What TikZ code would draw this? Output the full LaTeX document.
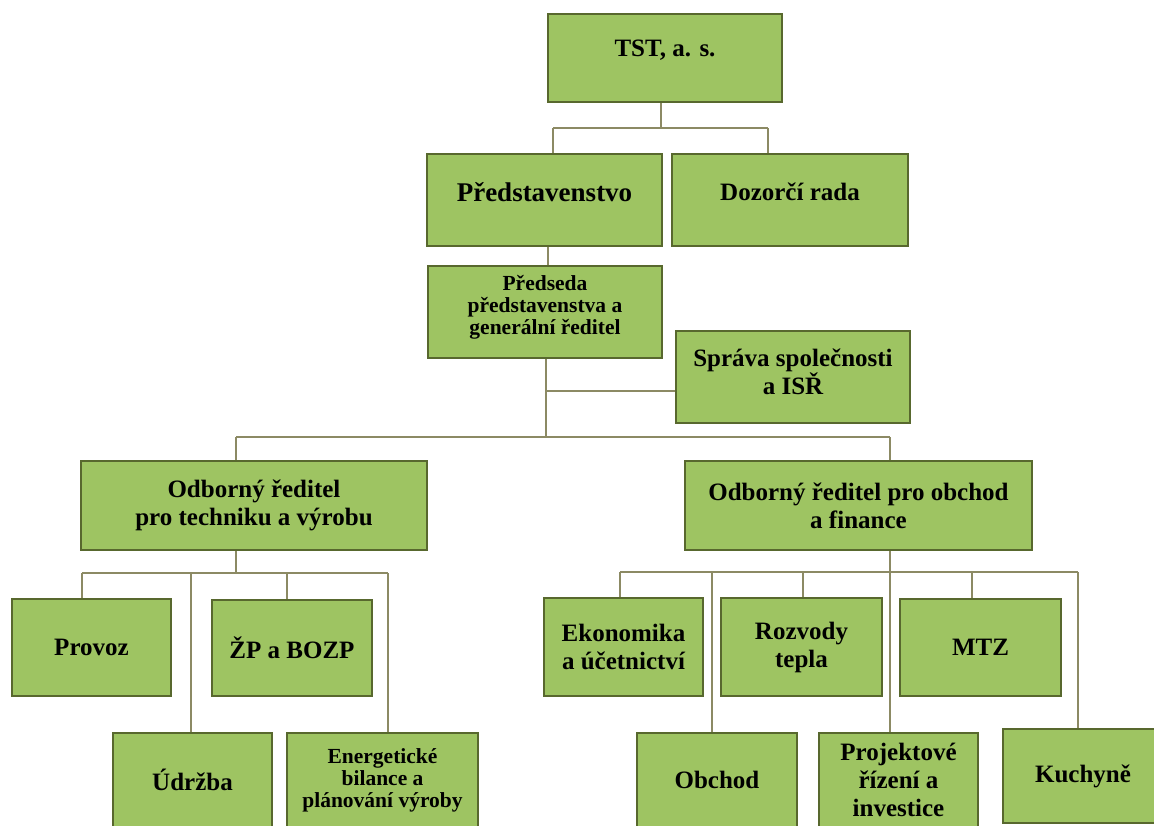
\documentclass[tikz,border=0pt]{standalone}
\usepackage{fontspec}
\setmainfont{Liberation Serif}
\definecolor{boxfill}{RGB}{158,196,98}
\definecolor{boxline}{RGB}{88,104,46}
\definecolor{conn}{RGB}{140,138,100}
\begin{document}
\begin{tikzpicture}[x=1pt,y=-1pt,
  box/.style={draw=boxline,line width=1.6pt,fill=boxfill,inner sep=0pt,minimum height=#1},
  box/.default=92pt,
  txt/.style={font=\bfseries\fontsize{25}{28}\selectfont,align=center,inner sep=0pt,text=black},
  stxt/.style={font=\bfseries\fontsize{21.5}{22}\selectfont,align=center,inner sep=0pt,text=black},
  link/.style={draw=conn,line width=1.4pt}]
\clip (0,0) rectangle (1154,825);
\fill[white] (0,0) rectangle (1154,825);
% boxes
\node[box=88pt,minimum width=234pt] (tst) at (665,58) {};
\node[txt] (tstT) at ([yshift=8pt]tst.center) {TST, a. s.};
\node[box,minimum width=235pt] (pred) at (544.5,200) {};
\node[txt,font=\bfseries\fontsize{27}{30}\selectfont] (predT) at ([yshift=8pt]pred.center) {Představenstvo};
\node[box,minimum width=236pt] (dozor) at (790,200) {};
\node[txt] (dozorT) at ([yshift=8pt]dozor.center) {Dozorčí rada};
\node[box,minimum width=234pt] (chair) at (545,312) {};
\node[stxt] (chairT) at ([yshift=5pt]chair.center) {Předseda\\představenstva a\\generální ředitel};
\node[box,minimum width=234pt] (sprava) at (793,377) {};
\node[txt] (spravaT) at ([yshift=5pt]sprava.center) {Správa společnosti\\a ISŘ};
\node[box=89pt,minimum width=346pt] (tech) at (254,505.5) {};
\node[txt] (techT) at (tech.center) {Odborný ředitel\\pro techniku a výrobu};
\node[box=89pt,minimum width=347pt] (fin) at (858.5,505.5) {};
\node[txt] (finT) at (fin.center) {Odborný ředitel pro obchod\\a finance};
\node[box=97pt,minimum width=159pt] (provoz) at (91.5,647.5) {};
\node[txt] (provozT) at (provoz.center) {Provoz};
\node[box=96pt,minimum width=160pt] (zp) at (292,648) {};
\node[txt] (zpT) at (zp.center) {ŽP a BOZP};
\node[box=96pt,minimum width=159pt] (udrz) at (192.5,781) {};
\node[txt] (udrzT) at ([yshift=1pt]udrz.center) {Údržba};
\node[box=96pt,minimum width=191pt] (energ) at (382.5,781) {};
\node[stxt] (energT) at ([yshift=1pt]energ.center) {Energetické\\bilance a\\plánování výroby};
\node[box=98pt,minimum width=159pt] (ekon) at (623.5,647) {};
\node[txt] (ekonT) at (ekon.center) {Ekonomika\\a účetnictví};
\node[box=98pt,minimum width=161pt] (rozv) at (801.5,647) {};
\node[txt] (rozvT) at (rozv.center) {Rozvody\\tepla};
\node[box=97pt,minimum width=161pt] (mtz) at (980.5,647.5) {};
\node[txt] (mtzT) at (mtz.center) {MTZ};
\node[box=96pt,minimum width=160pt] (obchod) at (717,781) {};
\node[txt] (obchodT) at ([yshift=1pt]obchod.center) {Obchod};
\node[box=96pt,minimum width=159pt] (proj) at (898.5,781) {};
\node[txt] (projT) at ([yshift=1pt]proj.center) {Projektové\\řízení a\\investice};
\node[box=94pt,minimum width=160pt] (kuch) at (1083,776) {};
\node[txt] (kuchT) at (kuch.center) {Kuchyně};
% bus coordinates
\coordinate (b1) at (661,128);
\coordinate (b1L) at (553,128);
\coordinate (b1R) at (768,128);
\coordinate (v2) at (548,246);
\coordinate (v3) at (546,358);
\coordinate (b3) at (546,391);
\coordinate (b4) at (546,437);
\coordinate (b4L) at (236,437);
\coordinate (b4R) at (890,437);
\coordinate (b5) at (236,573);
\coordinate (b5L) at (82,573);
\coordinate (b5a) at (191,573);
\coordinate (b5b) at (287,573);
\coordinate (b5R) at (388,573);
\coordinate (b6) at (890,572);
\coordinate (b6L) at (620,572);
\coordinate (b6a) at (712,572);
\coordinate (b6b) at (803,572);
\coordinate (b6c) at (972,572);
\coordinate (b6R) at (1078,572);
% connectors
\draw[link] (b1 |- tst.south) -- (b1);
\draw[link] (b1L) -- (b1R);
\draw[link] (b1L) -- (b1L |- pred.north);
\draw[link] (b1R) -- (b1R |- dozor.north);
\draw[link] (v2 |- pred.south) -- (v2 |- chair.north);
\draw[link] (v3 |- chair.south) -- (b4);
\draw[link] (b3) -- (b3 -| sprava.west);
\draw[link] (b4L) -- (b4R);
\draw[link] (b4L) -- (b4L |- tech.north);
\draw[link] (b4R) -- (b4R |- fin.north);
\draw[link] (b5 |- tech.south) -- (b5);
\draw[link] (b5L) -- (b5R);
\draw[link] (b5L) -- (b5L |- provoz.north);
\draw[link] (b5a) -- (b5a |- udrz.north);
\draw[link] (b5b) -- (b5b |- zp.north);
\draw[link] (b5R) -- (b5R |- energ.north);
\draw[link] (b6 |- fin.south) -- (b6 |- proj.north);
\draw[link] (b6L) -- (b6R);
\draw[link] (b6L) -- (b6L |- ekon.north);
\draw[link] (b6a) -- (b6a |- obchod.north);
\draw[link] (b6b) -- (b6b |- rozv.north);
\draw[link] (b6c) -- (b6c |- mtz.north);
\draw[link] (b6R) -- (b6R |- kuch.north);
\end{tikzpicture}
\end{document}
